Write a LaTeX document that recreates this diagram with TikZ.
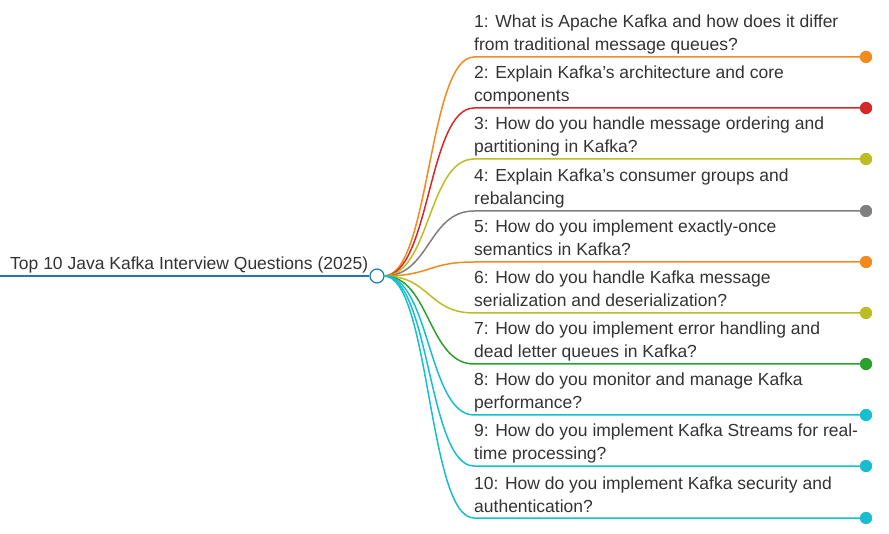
\documentclass[tikz,border=0pt]{standalone}
\usepackage{fontspec}
\setmainfont{Liberation Sans}
\definecolor{cor}{HTML}{F28A1E}
\definecolor{cred}{HTML}{D62728}
\definecolor{col}{HTML}{BCBD22}
\definecolor{cgr}{HTML}{7F7F7F}
\definecolor{cgn}{HTML}{2CA02C}
\definecolor{ccy}{HTML}{17BECF}
\definecolor{cbl}{HTML}{1F77B4}
\begin{document}
\begin{tikzpicture}[x=1pt,y=-1pt,
  lbl/.style={anchor=base west,inner sep=0,align=left,font=\fontsize{17.5}{23}\selectfont,text=black!80},
  br/.style={line width=1.5pt},
  dot/.style={circle,inner sep=0,minimum size=12pt}]
\useasboundingbox (0,0) rectangle (889,534);
\node[circle,draw=cbl,fill=white,line width=1.2pt,inner sep=0,minimum size=14pt] (root) at (377,276) {};
\coordinate (rs) at (0,276);
\draw[cbl,line width=2pt] (rs) -- (root.west);
\node[lbl] (rt) at (10,270) {Top 10 Java Kafka Interview Questions (2025)};
\coordinate (o) at (384,276);
\foreach \i/\y/\c/\t in {
 1/57/cor/{1: What is Apache Kafka and how does it differ\\from traditional message queues?},
 2/108/cred/{2: Explain Kafka's architecture and core\\components},
 3/159/col/{3: How do you handle message ordering and\\partitioning in Kafka?},
 4/211/cgr/{4: Explain Kafka's consumer groups and\\rebalancing},
 5/262/cor/{5: How do you implement exactly-once\\semantics in Kafka?},
 6/313/col/{6: How do you handle Kafka message\\serialization and deserialization?},
 7/364/cgn/{7: How do you implement error handling and\\dead letter queues in Kafka?},
 8/415/ccy/{8: How do you monitor and manage Kafka\\performance?},
 9/466/ccy/{9: How do you implement Kafka Streams for real-\\time processing?},
 10/518/ccy/{10: How do you implement Kafka security and\\authentication?}}
{
 \coordinate (s\i) at (474,\y);
 \node[dot,fill=\c] (d\i) at (866,\y) {};
 \node[lbl] (t\i) at (474,\y-6) {\t};
 \draw[br,\c] (o) .. controls (430,276) and (428,\y) .. (s\i) -- (d\i.center);
 \node[dot,fill=\c] at (866,\y) {};
}
\end{tikzpicture}
\end{document}
